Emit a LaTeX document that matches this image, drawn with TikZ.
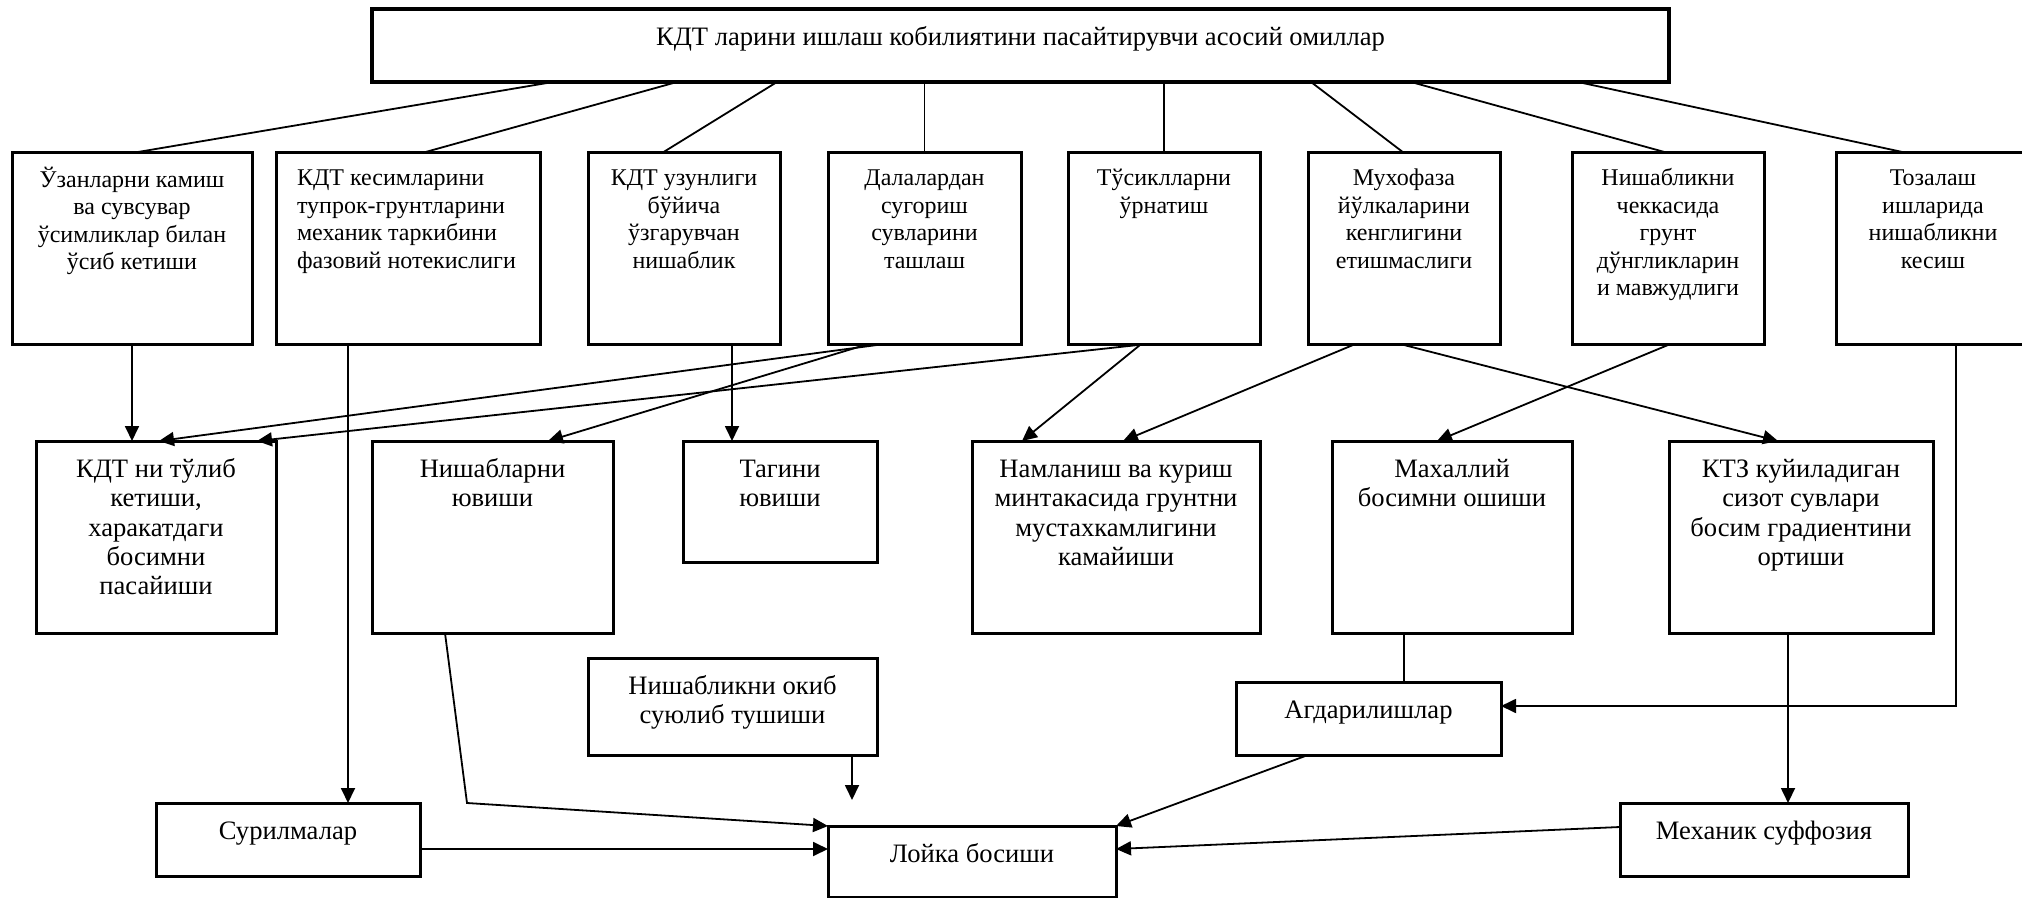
\documentclass[tikz,border=0pt]{standalone}
\usepackage{fontspec}
\setmainfont{Liberation Serif}
\usetikzlibrary{calc,arrows.meta}
\newcommand\tfa{\fontsize{12}{13.75}\selectfont}
\newcommand\tfb{\fontsize{13.3}{14.65}\selectfont}
\tikzset{
 box/.style={draw, line width=1.5pt, inner sep=0pt, outer sep=0pt, anchor=north west},
 topbox/.style={box, line width=2pt},
 txt/.style={inner sep=0pt, outer sep=0pt, align=center, anchor=north},
 ln/.style={line width=0.9pt},
 arr/.style={ln, -{Triangle[length=7.5pt,width=7pt]}},
}
\begin{document}
\begin{tikzpicture}[x=0.5pt,y=-0.5pt]
\useasboundingbox (0,0) rectangle (2022,898);
% top
\node[topbox, minimum width=648.5pt, minimum height=36.5pt] (top) at (372,9) {};
\node[txt, font=\tfb] (topt) at ($(top.north)+(0,15.5)$) {\strut КДТ ларини ишлаш кобилиятини пасайтирувчи асосий омиллар};
% row 1
\node[box, minimum width=120pt, minimum height=96pt] (b1) at (12,153) {};
\node[txt, font=\tfa] (b1t) at ($(b1.north)+(0,13.75)$) {\strut Ўзанларни камиш\\ва сувсувар\\ўсимликлар билан\\ўсиб кетиши};
\node[box, minimum width=132pt, minimum height=96pt] (b2) at (276,153) {};
\node[txt, font=\tfa, anchor=north west, align=left] (b2t) at ($(b2.north west)+(21,13.75)$) {\strut КДТ кесимларини\\тупрок-грунтларини\\механик таркибини\\фазовий нотекислиги};
\node[box, minimum width=96pt, minimum height=96pt] (b3) at (588,153) {};
\node[txt, font=\tfa] (b3t) at ($(b3.north)+(0,13.75)$) {\strut КДТ узунлиги\\бўйича\\ўзгарувчан\\нишаблик};
\node[box, minimum width=96.5pt, minimum height=96pt] (b4) at (828,153) {};
\node[txt, font=\tfa] (b4t) at ($(b4.north)+(0,13.75)$) {\strut Далалардан\\сугориш\\сувларини\\ташлаш};
\node[box, minimum width=96pt, minimum height=96pt] (b5) at (1068,153) {};
\node[txt, font=\tfa] (b5t) at ($(b5.north)+(0,13.75)$) {\strut Тўсиклларни\\ўрнатиш};
\node[box, minimum width=96pt, minimum height=96pt] (b6) at (1308,153) {};
\node[txt, font=\tfa] (b6t) at ($(b6.north)+(0,13.75)$) {\strut Мухофаза\\йўлкаларини\\кенглигини\\етишмаслиги};
\node[box, minimum width=96pt, minimum height=96pt] (b7) at (1572,153) {};
\node[txt, font=\tfa] (b7t) at ($(b7.north)+(0,13.75)$) {\strut Нишабликни\\чеккасида\\грунт\\дўнгликларин\\и мавжудлиги};
\node[box, minimum width=97pt, minimum height=96pt] (b8) at (1836,153) {};
\node[txt, font=\tfa] (b8t) at ($(b8.north)+(0,13.75)$) {\strut Тозалаш\\ишларида\\нишабликни\\кесиш};
% row 2
\node[box, minimum width=120pt, minimum height=96pt] (A) at (36,441) {};
\node[txt, font=\tfb] (At) at ($(A.north)+(0,16)$) {\strut КДТ ни тўлиб\\кетиши,\\харакатдаги\\босимни\\пасайиши};
\node[box, minimum width=120.5pt, minimum height=96pt] (B) at (372,441) {};
\node[txt, font=\tfb] (Bt) at ($(B.north)+(0,16)$) {\strut Нишабларни\\ювиши};
\node[box, minimum width=97pt, minimum height=60.5pt] (C) at (683,441) {};
\node[txt, font=\tfb] (Ct) at ($(C.north)+(0,16)$) {\strut Тагини\\ювиши};
\node[box, minimum width=144pt, minimum height=96pt] (G) at (972,441) {};
\node[txt, font=\tfb] (Gt) at ($(G.north)+(0,16)$) {\strut Намланиш ва куриш\\минтакасида грунтни\\мустахкамлигини\\камайиши};
\node[box, minimum width=120pt, minimum height=96pt] (H) at (1332,441) {};
\node[txt, font=\tfb] (Ht) at ($(H.north)+(0,16)$) {\strut Махаллий\\босимни ошиши};
\node[box, minimum width=132pt, minimum height=96pt] (I) at (1669,441) {};
\node[txt, font=\tfb] (It) at ($(I.north)+(0,16)$) {\strut КТЗ куйиладиган\\сизот сувлари\\босим градиентини\\ортиши};
% lower
\node[box, minimum width=144.5pt, minimum height=48.5pt] (D) at (588,658) {};
\node[txt, font=\tfb] (Dt) at ($(D.north)+(0,16)$) {\strut Нишабликни окиб\\суюлиб тушиши};
\node[box, minimum width=132.5pt, minimum height=36.5pt] (J) at (1236,682) {};
\node[txt, font=\tfb] (Jt) at ($(J.north)+(0,16)$) {\strut Агдарилишлар};
\node[box, minimum width=132pt, minimum height=36.5pt] (E) at (156,803) {};
\node[txt, font=\tfb] (Et) at ($(E.north)+(0,16)$) {\strut Сурилмалар};
\node[box, minimum width=144pt, minimum height=36.5pt] (K) at (1620,803) {};
\node[txt, font=\tfb] (Kt) at ($(K.north)+(0,16)$) {\strut Механик суффозия};
\node[box, minimum width=144pt, minimum height=35.5pt] (F) at (828,826) {};
\node[txt, font=\tfb] (Ft) at ($(F.north)+(0,16)$) {\strut Лойка босиши};
% top connectors
\draw[ln] ($(top.south west)+(181,0)$) -- (b1.north);
\draw[ln] ($(top.south west)+(305,0)$) -- ($(b2.north west)+(146,0)$);
\draw[ln] ($(top.south west)+(405,0)$) -- ($(b3.north west)+(74,0)$);
\draw[ln] (top.south -| b4.north) -- (b4.north);
\draw[ln] (top.south -| b5.north) -- (b5.north);
\draw[ln] ($(top.south west)+(939,0)$) -- (b6.north);
\draw[ln] ($(top.south west)+(1039,0)$) -- (b7.north);
\draw[ln] ($(top.south west)+(1206,0)$) -- ($(b8.north west)+(71,0)$);
% row1 -> row2
\draw[arr] (b1.south) -- (b1.south |- A.north);
\draw[arr] ($(b2.south west)+(72,0)$) -- ($(E.north west)+(192,0)$);
\draw[arr] ($(b3.south west)+(144,0)$) -- ($(C.north west)+(49,0)$);
\draw[arr] ($(b4.south west)+(49,0)$) -- ($(A.north west)+(123,0)$);
\draw[arr] ($(b4.south west)+(37,0)$) -- ($(B.north west)+(176,0)$);
\draw[arr] ($(b5.south west)+(70,0)$) -- ($(A.north west)+(221,0)$);
\draw[arr] ($(b5.south west)+(72,0)$) -- ($(G.north west)+(50,0)$);
\draw[arr] ($(b6.south west)+(45,0)$) -- ($(G.north west)+(151,0)$);
\draw[arr] (b6.south) -- ($(I.north west)+(109,0)$);
\draw[arr] (b7.south) -- ($(H.north west)+(105,0)$);
\draw[arr] ($(b8.south west)+(120,0)$) |- ($(J.north east)+(0,24)$);
% lower connectors
\draw[ln] ($(H.south west)+(72,0)$) -- ($(J.north west)+(168,0)$);
\draw[arr] ($(I.south west)+(119,0)$) -- ($(K.north west)+(168,0)$);
\draw[arr] ($(J.south west)+(72,0)$) -- (F.north east);
\draw[arr] ($(K.north west)+(0,24)$) -- ($(F.north east)+(0,23)$);
\coordinate (bend) at (467,803);
\draw[arr] ($(B.south west)+(73,0)$) -- (bend) -- (F.north west);
\draw[arr] ($(E.north east)+(0,46)$) -- ($(F.north west)+(0,23)$);
\coordinate (dend) at (852,800);
\draw[arr] ($(D.south west)+(264,0)$) -- (dend);
\end{tikzpicture}
\end{document}
